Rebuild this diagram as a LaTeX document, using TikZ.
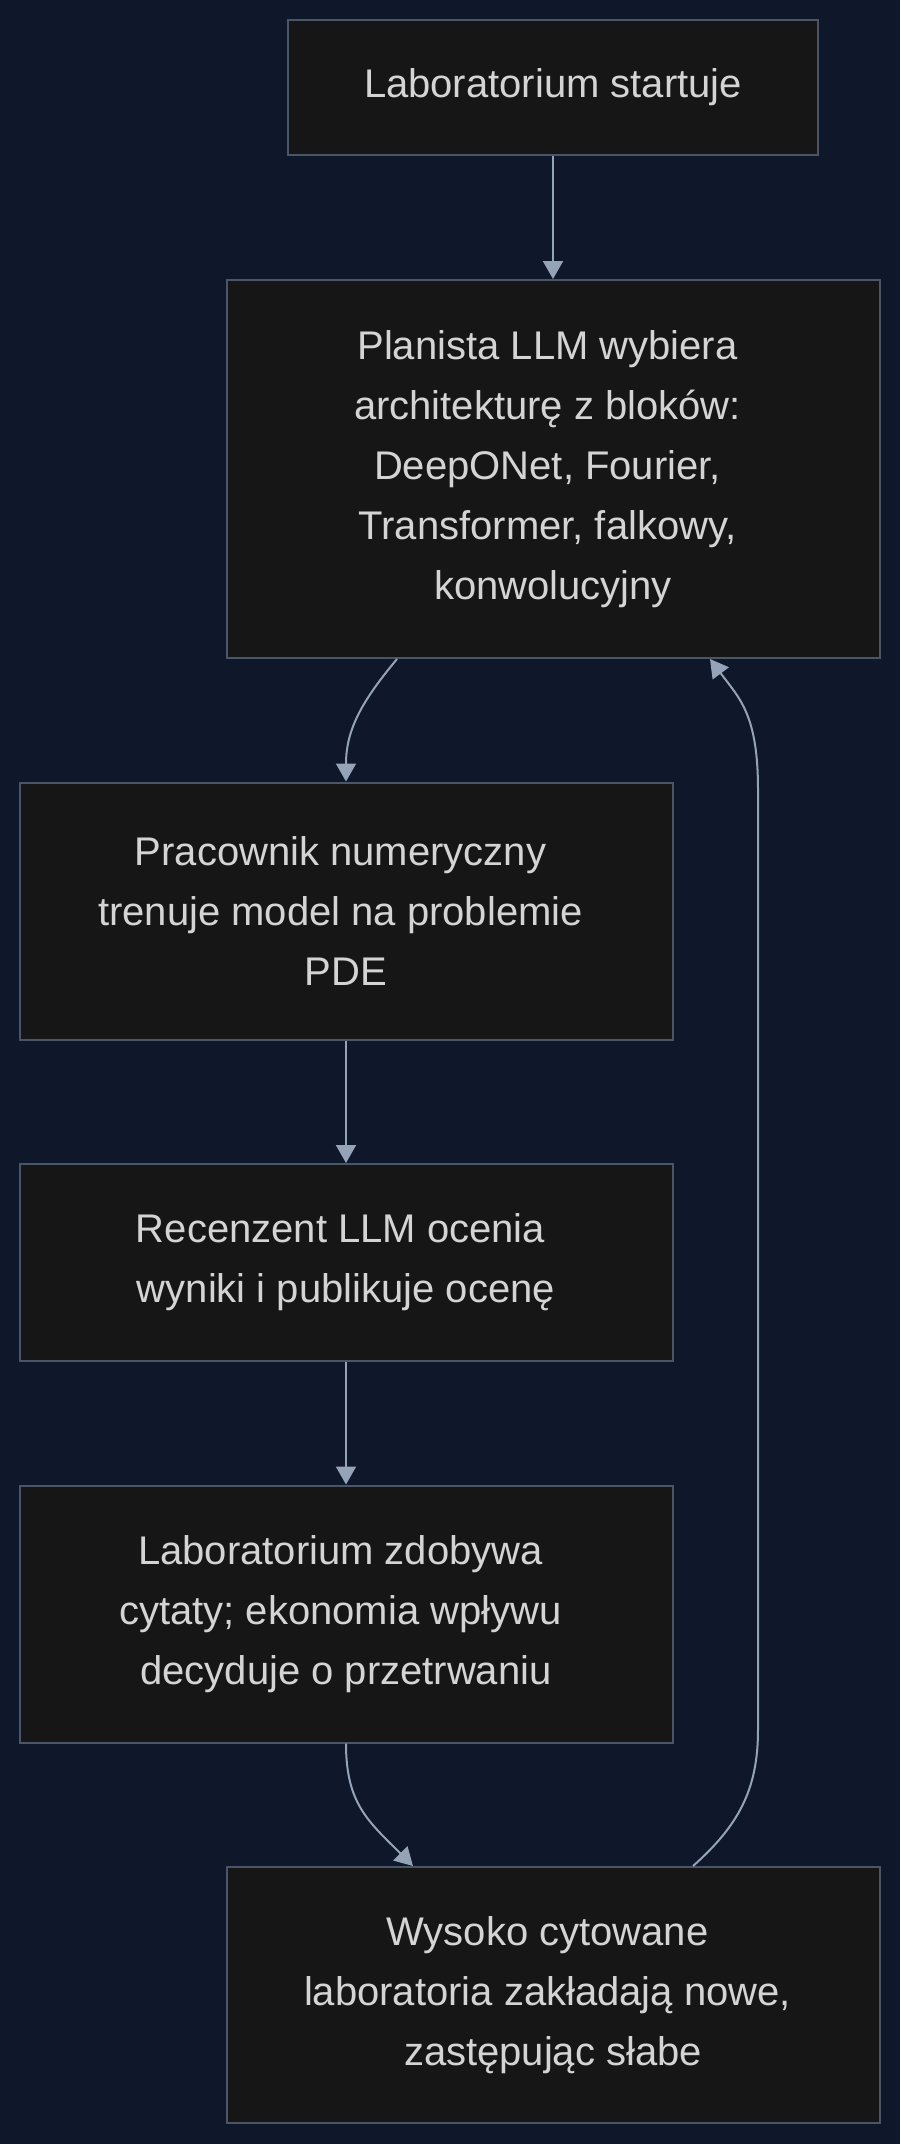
\documentclass[tikz,border=0pt]{standalone}
\usepackage{fontspec}
\setmainfont{Liberation Sans}
\usetikzlibrary{arrows.meta,positioning,calc}
\definecolor{bgnavy}{HTML}{0F172A}
\definecolor{boxfill}{HTML}{161616}
\definecolor{boxline}{HTML}{4A5568}
\definecolor{edgeline}{HTML}{94A3B8}
\definecolor{labeltext}{HTML}{D4D4D4}
\newcommand{\wrapsp}{\kern11pt}

\begin{document}
\begin{tikzpicture}[x=1pt,y=-1pt,>={Triangle[length=18pt,width=20pt]},
  box/.style={draw=boxline,line width=2pt,fill=boxfill,text=labeltext,align=center,inner sep=0pt,
    minimum width=653pt,font=\fontsize{40}{60}\selectfont},
  arrow/.style={->,draw=edgeline,line width=2pt}]
\fill[bgnavy] (0,0) rectangle (900,2144);
\useasboundingbox (0,0) rectangle (900,2144);
% nodes, top to bottom
\node[box,minimum width=530pt,minimum height=135pt] (start) at (553,87.5) {Laboratorium startuje};
\node[box,minimum height=378pt] (plan) at (553,469) {Planista LLM wybiera\wrapsp\\architekturę z bloków:\wrapsp\\DeepONet, Fourier,\wrapsp\\Transformer, falkowy,\wrapsp\\konwolucyjny};
\node[box,minimum height=257pt] (train) at (346,911) {Pracownik numeryczny\wrapsp\\trenuje model na problemie\wrapsp\\PDE};
\node[box,minimum height=197pt] (review) at (346,1262.5) {Recenzent LLM ocenia\wrapsp\\wyniki i publikuje ocenę};
\node[box,minimum height=257pt] (cite) at (346,1614) {Laboratorium zdobywa\wrapsp\\cytaty; ekonomia wpływu\wrapsp\\decyduje o przetrwaniu};
\node[box,minimum height=256pt] (spawn) at (553,1995) {Wysoko cytowane\wrapsp\\laboratoria zakładają nowe,\wrapsp\\zastępując słabe};
% loop back from spawn to plan
\coordinate (loopbot) at (758,1730);
\coordinate (looptop) at (758,790);
\draw[arrow] (start) -- (plan);
\draw[arrow] ([xshift=-156pt]plan.south) .. controls +(-35,42) and +(0,-52) .. (train.north);
\draw[arrow] (train) -- (review);
\draw[arrow] (review) -- (cite);
\draw[arrow] (cite.south) .. controls +(0,60) and +(-45,-45) .. ([xshift=-140pt]spawn.north);
\draw[arrow] ([xshift=140pt]spawn.north) .. controls +(45,-40) and +(0,60) .. (loopbot)
  -- (looptop) .. controls +(0,-75) and +(30,40) .. ([xshift=157pt]plan.south);
\end{tikzpicture}
\end{document}
